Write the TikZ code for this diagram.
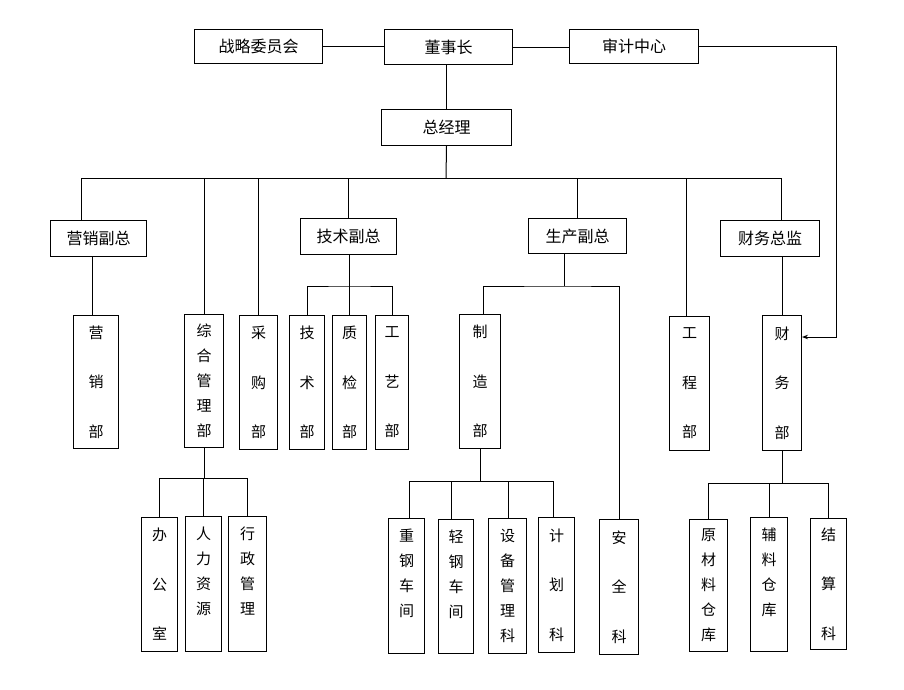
\documentclass[tikz,border=0pt]{standalone}
\usepackage{fontspec}
\newfontfamily\cjk{Noto Sans CJK SC}
\usetikzlibrary{arrows.meta}
\newcommand\obox[7]{\node[#1, minimum width={#5-#3}, minimum height={#6-#4}] (#2) at (#3,#4) {#7};}
\begin{document}
\begin{tikzpicture}[x=1pt,y=-1pt,
  box/.style={draw, line width=1pt, inner sep=0pt, align=center, anchor=north west},
  hb/.style={box, font=\cjk\fontsize{16}{16}\selectfont},
  vb/.style={box, font=\cjk\fontsize{15}{25}\selectfont},
  vw/.style={box, font=\cjk\fontsize{15}{49.5}\selectfont},
  link/.style={draw, line width=1pt},
  arr/.style={link, -{Stealth[length=6pt,width=4.5pt]}}]
\fill[white] (0,0) rectangle (904,689);
\useasboundingbox (0,0) rectangle (904,689);
% top
\obox{hb}{zl}{194}{29}{322}{63}{战略委员会}
\obox{hb}{dsz}{384}{29}{512}{64}{董事长}
\obox{hb}{sj}{569}{29}{698}{63}{审计中心}
\obox{hb}{zjl}{381}{109}{511}{145}{总经理}
% second level
\obox{hb}{yx}{50}{220}{146}{256}{营销副总}
\obox{hb}{js}{300}{218}{396}{254}{技术副总}
\obox{hb}{sc}{528}{218}{626}{253}{生产副总}
\obox{hb}{cwzj}{720}{220}{819}{256}{财务总监}
% third level
\obox{vw}{yxb}{73}{315}{118}{448}{营\\销\\部}
\obox{vb}{zh}{184}{314}{223}{447}{综\\合\\管\\理\\部}
\obox{vw}{cg}{239}{315}{277}{449}{采\\购\\部}
\obox{vw}{jsb}{289}{315}{324}{449}{技\\术\\部}
\obox{vw}{zj}{332}{315}{366}{449}{质\\检\\部}
\obox{vw}{gy}{375}{315}{408}{449}{工\\艺\\部}
\obox{vw}{zz}{459}{314}{500}{448}{制\\造\\部}
\obox{vw}{gc}{669}{316}{709}{450}{工\\程\\部}
\obox{vw}{cwb}{762}{315}{801}{450}{财\\务\\部}
% fourth level
\obox{vw}{bgs}{141}{517}{177}{651}{办\\公\\室}
\obox{vb}{rl}{185}{516}{221}{651}{人\\力\\资\\源\\\phantom{源}}
\obox{vb}{xz}{228}{516}{266}{651}{行\\政\\管\\理\\\phantom{理}}
\obox{vb}{zg}{388}{518}{424}{653}{重\\钢\\车\\间\\\phantom{间}}
\obox{vb}{qg}{438}{519}{473}{653}{轻\\钢\\车\\间\\\phantom{间}}
\obox{vb}{sb}{488}{518}{526}{653}{设\\备\\管\\理\\科}
\obox{vw}{jh}{538}{517}{574}{652}{计\\划\\科}
\obox{vw}{aq}{599}{519}{638}{654}{安\\全\\科}
\obox{vb}{ycl}{689}{519}{727}{651}{原\\材\\料\\仓\\库}
\obox{vb}{fl}{750}{517}{787}{651}{辅\\料\\仓\\库\\\phantom{库}}
\obox{vw}{jsk}{810}{518}{846}{649}{结\\算\\科}
% top connectors
\draw[link] (zl.east) -- (zl.east -| dsz.west);
\draw[link] (dsz.east) -- (dsz.east -| sj.west);
\draw[link] (zjl.north |- dsz.south) -- (zjl.north);
\coordinate (aud) at (836,337);
\draw[arr] (sj.east) -| (aud) -- (aud -| cwb.east);
% main bus
\coordinate (bus) at (446,178);
\coordinate (busL) at (81,178);
\coordinate (busR) at (781,178);
\coordinate (gcx) at (686,178);
\draw[link] (zjl.south) -- (bus);
\draw[link] (busL |- yx.north) -- (busL) -- (busR) -- (busR |- cwzj.north);
\draw[link] (zh.north) -- (zh.north |- bus);
\draw[link] (cg.north) -- (cg.north |- bus);
\draw[link] (js.north) -- (js.north |- bus);
\draw[link] (sc.north) -- (sc.north |- bus);
\draw[link] (gcx) -- (gcx |- gc.north);
% marketing
\coordinate (yxd) at (92,256);
\draw[link] (yxd |- yx.south) -- (yxd |- yxb.north);
% finance director
\draw[link] (cwb.north |- cwzj.south) -- (cwb.north);
% technology
\coordinate (jsbus) at (349,286);
\draw[link] (jsbus |- js.south) -- (jsbus);
\draw[link] (jsb.north) |- (jsbus) -| (gy.north);
\draw[link] (zj.north) -- (zj.north |- jsbus);
% production
\coordinate (scbus) at (564,286);
\coordinate (zzd) at (483,286);
\draw[link] (scbus |- sc.south) -- (scbus);
\draw[link] (zzd |- zz.north) -- (zzd) -- (scbus) -| (aq.north);
% general management
\coordinate (zhbus) at (203,478);
\draw[link] (zh.south) -- (zh.south |- zhbus);
\draw[link] (bgs.north) |- (zhbus) -| (xz.north);
\draw[link] (rl.north) -- (rl.north |- zhbus);
% manufacturing
\coordinate (zzbus) at (479,481);
\coordinate (zd1) at (409,481);
\coordinate (zd2) at (451,481);
\coordinate (zd3) at (508,481);
\coordinate (zd4) at (553,481);
\draw[link] (zz.south) -- (zz.south |- zzbus);
\draw[link] (zd1 |- zg.north) -- (zd1) -- (zd4) -- (zd4 |- jh.north);
\draw[link] (zd2) -- (zd2 |- qg.north);
\draw[link] (zd3) -- (zd3 |- sb.north);
% finance
\coordinate (cwbus) at (781,483);
\draw[link] (cwb.south) -- (cwb.south |- cwbus);
\draw[link] (ycl.north) |- (cwbus) -| (jsk.north);
\draw[link] (fl.north) -- (fl.north |- cwbus);
\end{tikzpicture}
\end{document}
